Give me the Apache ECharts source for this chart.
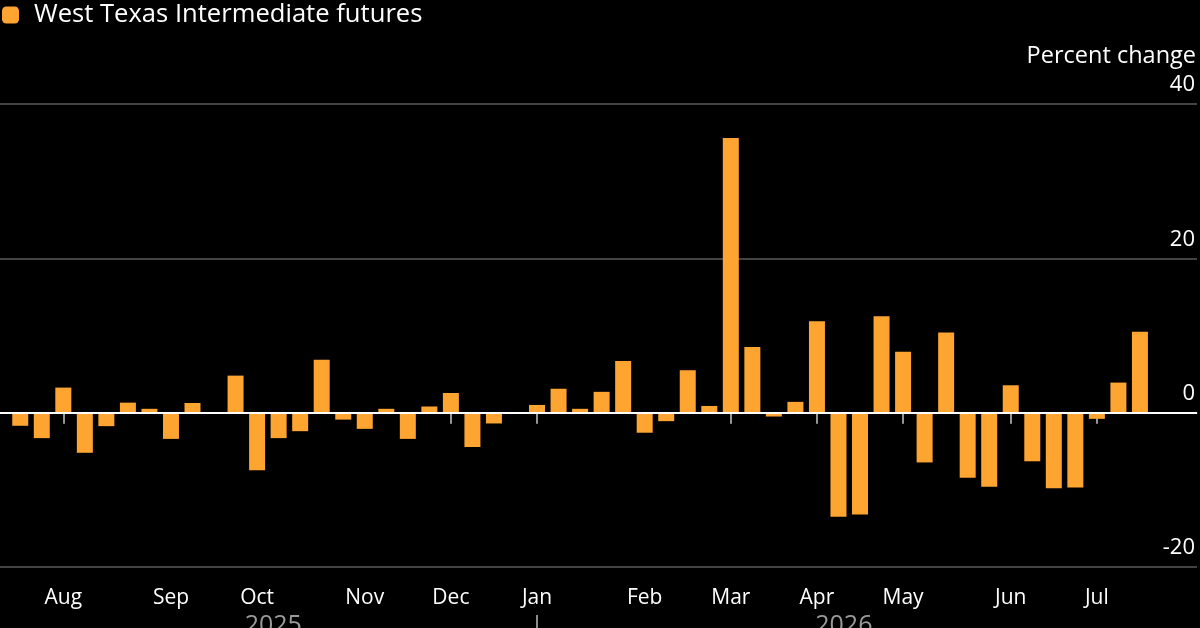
<!DOCTYPE html>
<html>
<head>
<meta charset="utf-8">
<script src="https://cdn.jsdelivr.net/npm/echarts@6/dist/echarts.min.js"></script>
<style>
html,body{margin:0;padding:0;background:#000;}
#chart{width:1200px;height:628px;}
</style>
</head>
<body>
<div id="chart"></div>
<script>
// Weekly observation dates (categories)
const weeks = [
  '2025-07-18','2025-07-25','2025-08-01','2025-08-08','2025-08-15','2025-08-22','2025-08-29',
  '2025-09-05','2025-09-12','2025-09-19','2025-09-26','2025-10-03','2025-10-10','2025-10-17',
  '2025-10-24','2025-10-31','2025-11-07','2025-11-14','2025-11-21','2025-11-28','2025-12-05',
  '2025-12-12','2025-12-19','2025-12-26','2026-01-02','2026-01-09','2026-01-16','2026-01-23',
  '2026-01-30','2026-02-06','2026-02-13','2026-02-20','2026-02-27','2026-03-06','2026-03-13',
  '2026-03-20','2026-03-27','2026-04-03','2026-04-10','2026-04-17','2026-04-24','2026-05-01',
  '2026-05-08','2026-05-15','2026-05-22','2026-05-29','2026-06-05','2026-06-12','2026-06-19',
  '2026-06-26','2026-07-03','2026-07-10','2026-07-17'
];
// Weekly percent change, WTI futures
const wtiChange = [
  -1.7, -3.3, 3.25, -5.2, -1.75, 1.3, 0.5, -3.4, 1.25, 0.0,
  4.8, -7.45, -3.3, -2.4, 6.85, -0.9, -2.1, 0.5, -3.4, 0.8,
  2.55, -4.45, -1.4, -0.1, 1.0, 3.1, 0.5, 2.7, 6.7, -2.6,
  -1.1, 5.5, 0.87, 35.6, 8.5, -0.5, 1.4, 11.85, -13.5, -13.2,
  12.5, 7.9, -6.45, 10.4, -8.45, -9.6, 3.55, -6.3, -9.8, -9.7,
  -0.8, 3.9, 10.5
];
const monthNames = ['Jan','Feb','Mar','Apr','May','Jun','Jul','Aug','Sep','Oct','Nov','Dec'];
const yTicks = [-20, 0, 20, 40];
const seriesName = 'West Texas Intermediate futures';
const yAxisTitle = 'Percent change';

// month ticks: first week of each month
const monthTickIdx = [];
weeks.forEach((d, i) => { if (+d.split('-')[2] <= 7) monthTickIdx.push(i); });
const monthLabelAt = {};
monthTickIdx.forEach(i => { monthLabelAt[i] = monthNames[+weeks[i].split('-')[1] - 1]; });

// year boundaries and label centres
const years = [];
weeks.forEach((d, i) => {
  const y = d.slice(0, 4);
  if (!years.length || years[years.length - 1].year !== y) years.push({ year: y, first: i, last: i });
  else years[years.length - 1].last = i;
});
const yearBoundaries = years.slice(1).map(y => y.first);
const yearCentres = years.map((y, k) => {
  const s = k === 0 ? y.first - 0.5 : y.first;
  const e = k === years.length - 1 ? y.last + 0.5 : years[k + 1].first;
  return (s + e) / 2;
});
const yearLabelAt = {};
yearCentres.forEach((c, k) => { yearLabelAt[c.toFixed(3)] = years[k].year; });

const FONT = 'Open Sans';
const chart = echarts.init(document.getElementById('chart'));
chart.setOption({
  backgroundColor: '#000',
  animation: false,
  textStyle: { fontFamily: FONT },
  title: {
    text: yAxisTitle,
    right: 4, top: 44, padding: 0,
    textStyle: { color: '#fff', fontSize: 23.5, fontWeight: 'normal', fontFamily: FONT }
  },
  legend: {
    left: 2, top: 2, padding: 0,
    itemWidth: 17, itemHeight: 17,
    icon: 'roundRect',
    textStyle: { color: '#fff', fontSize: 25.6, fontFamily: FONT, padding: [0, 0, 0, 10] },
    data: [seriesName]
  },
  grid: { left: 0, right: 3, top: 104, bottom: 61, containLabel: false, outerBoundsMode: 'none' },
  xAxis: [{
    type: 'value',
    min: -0.94, max: 54.65,
    position: 'bottom',
    splitLine: { show: false },
    axisLine: { show: true, lineStyle: { color: '#666', width: 1.5 } },
    axisTick: { show: true, length: 11, customValues: monthTickIdx, lineStyle: { color: '#c8c8c8', width: 1.5 } },
    axisLabel: {
      customValues: monthTickIdx, color: '#fff', fontSize: 21, fontFamily: FONT, margin: 21,
      formatter: v => monthLabelAt[Math.round(v)] || ''
    }
  }, {
    type: 'value',
    min: -0.94, max: 54.65,
    position: 'bottom',
    offset: 48,
    splitLine: { show: false },
    axisLine: { show: false },
    axisTick: { show: true, length: 16, customValues: yearBoundaries, lineStyle: { color: '#bbb', width: 1.5 } },
    axisLabel: {
      customValues: yearCentres, color: '#999', fontSize: 25, fontFamily: FONT, margin: -2,
      formatter: v => yearLabelAt[v.toFixed(3)] || ''
    }
  }],
  yAxis: {
    type: 'value',
    position: 'right',
    min: yTicks[0], max: yTicks[yTicks.length - 1], interval: 20,
    axisLine: { show: false },
    axisTick: { show: false },
    splitLine: { show: true, lineStyle: { color: '#5a5a5a', width: 1.5 } },
    axisLabel: {
      inside: true, margin: 2, color: '#fff', fontSize: 22, fontFamily: FONT,
      verticalAlign: 'bottom', padding: [0, 0, 8, 0]
    }
  },
  series: [{
    name: seriesName,
    type: 'bar',
    xAxisIndex: 0,
    barWidth: 16,
    itemStyle: { color: '#FDA431' },
    data: wtiChange.map((v, i) => [i, v]),
    markLine: {
      silent: true,
      symbol: ['none', 'none'],
      label: { show: false },
      lineStyle: { color: '#fff', width: 2, type: 'solid' },
      data: [{ yAxis: 0 }]
    }
  }]
});
</script>
</body>
</html>
